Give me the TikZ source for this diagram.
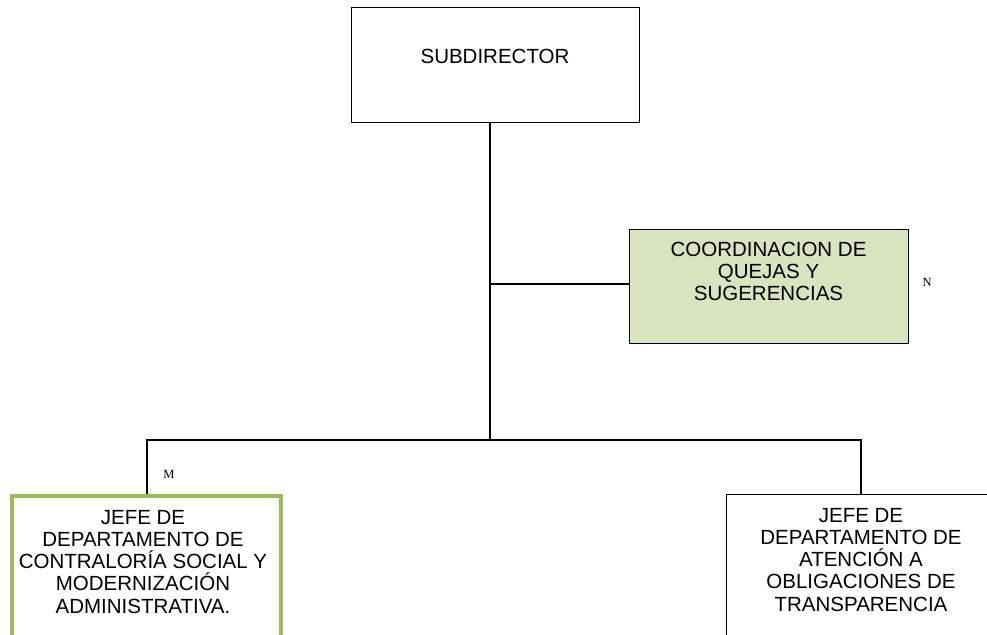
\documentclass[tikz,border=0pt]{standalone}
\usepackage{fontspec}
\setmainfont{Liberation Sans}
\newfontfamily\markfont{Liberation Serif}
\definecolor{coordfill}{HTML}{D7E4BD}
\definecolor{deptgreen}{HTML}{9BBB59}
\begin{document}
\begin{tikzpicture}[x=1pt,y=-1pt,
  box/.style={draw=black, line width=1.2pt, fill=white, anchor=north west, inner sep=0pt},
  label text/.style={font=\fontsize{20.5}{22.2}\selectfont, align=center, inner sep=0pt, anchor=north},
  mark text/.style={font=\markfont\fontsize{12.5}{13}\selectfont, inner sep=0pt},
  link/.style={draw=black, line width=1.2pt}]
  \clip (0,0) rectangle (987,634);
  \fill[white] (0,0) rectangle (987,634);

  % connectors
  \coordinate (busL) at (147,440);
  \coordinate (busR) at (861,440);
  \coordinate (busM) at (490,440);
  \coordinate (tapC) at (490,284);

  % boxes
  \node[box, minimum width=288, minimum height=115] (sub) at (351,7) {};
  \node[box, fill=coordfill, minimum width=279, minimum height=114] (coord) at (629,229) {};
  \node[box, draw=deptgreen, line width=3.5pt, minimum width=269, minimum height=160] (deptL) at (10,494) {};
  \node[box, minimum width=280, minimum height=160] (deptR) at (726,494) {};

  \draw[link] (sub.south -| busM) -- (busM);
  \draw[link] (tapC) -- (tapC -| coord.west);
  \draw[link] (busL |- deptL.north) -- (busL) -- (busR) -- (busR |- deptR.north);

  % texts
  \node[label text] (subT) at (495,49) {SUBDIRECTOR};
  \node[label text] (coordT) at (768.5,242) {COORDINACION DE\\QUEJAS Y\\SUGERENCIAS};
  \node[label text] (deptLT) at (143,510) {JEFE DE\\DEPARTAMENTO DE\\CONTRALORÍA SOCIAL Y\\MODERNIZACIÓN\\ADMINISTRATIVA.};
  \node[label text] (deptRT) at (861,508) {JEFE DE\\DEPARTAMENTO DE\\ATENCIÓN A\\OBLIGACIONES DE\\TRANSPARENCIA};

  \node[mark text] (markM) at (169,474) {M};
  \node[mark text] (markN) at (927,282.5) {N};
\end{tikzpicture}
\end{document}
